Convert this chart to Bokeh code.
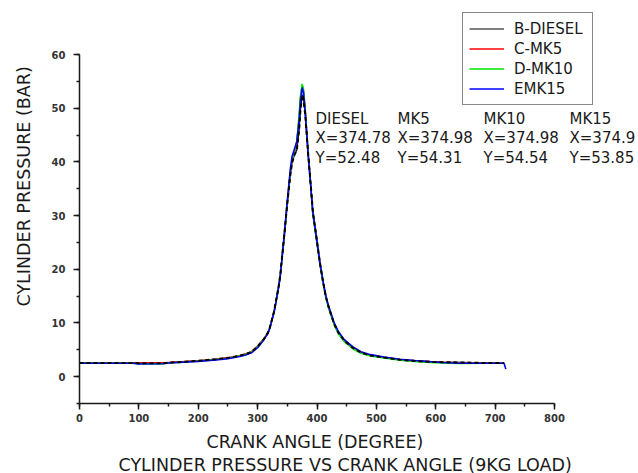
from bokeh.plotting import figure
from bokeh.models import Range1d, SingleIntervalTicker, Legend, LegendItem, Label, Title
from bokeh.embed import file_html
from bokeh.resources import INLINE

# ---- data ----
crank_angle = [0, 50, 90, 100, 140, 150, 200, 230, 250, 270, 280, 290, 300, 310, 317, 320,
               328, 335, 338, 345, 350, 355, 358, 362, 366, 370, 372, 375, 377, 380, 385,
               390, 393, 398, 405, 410, 415, 420, 429, 436, 446, 460, 474, 490, 513, 540,
               565, 590, 610, 640, 680, 715]
diesel = [2.55, 2.55, 2.55, 2.5, 2.5, 2.6, 2.95, 3.25, 3.5, 3.9, 4.2, 4.6, 5.6, 6.9, 8.1, 8.9,
          12.3, 16.6, 18.8, 26.5, 32.3, 37.5, 39.8, 41.3, 42.2, 46.0, 49.5, 52.48, 51.8, 49.0, 41.7,
          35.0, 30.8, 26.9, 21.2, 17.8, 14.9, 12.8, 9.8, 8.2, 6.7, 5.4, 4.5, 3.95, 3.55, 3.15,
          2.9, 2.75, 2.7, 2.65, 2.55, 2.55]
mk5 = [2.6, 2.6, 2.6, 2.6, 2.6, 2.65, 2.95, 3.25, 3.5, 3.95, 4.25, 4.7, 5.7, 7.0, 8.2, 9.0,
       12.3, 16.5, 18.6, 26.3, 32.2, 37.8, 40.2, 41.8, 43.5, 48.5, 51.8, 54.31, 53.6, 50.2, 41.8,
       34.6, 30.3, 26.4, 20.9, 17.6, 14.7, 12.7, 9.7, 8.1, 6.6, 5.3, 4.45, 3.95, 3.55, 3.15,
       2.95, 2.8, 2.7, 2.6, 2.6, 2.6]
mk10 = [2.55, 2.55, 2.5, 2.4, 2.4, 2.55, 2.9, 3.2, 3.45, 3.9, 4.2, 4.6, 5.6, 6.9, 8.1, 8.9,
        12.2, 16.4, 18.5, 26.4, 32.4, 38.0, 40.4, 42.0, 43.9, 49.0, 52.2, 54.54, 53.7, 50.0, 41.6,
        34.5, 30.2, 26.3, 20.8, 17.5, 14.6, 12.6, 9.6, 8.0, 6.5, 5.2, 4.35, 3.85, 3.45, 3.05,
        2.8, 2.65, 2.55, 2.45, 2.5, 2.5]
mk15_angle = [0, 50, 90, 100, 140, 150, 200, 230, 250, 270, 280, 290, 300, 310, 317, 320,
              328, 335, 338, 345, 350, 355, 358, 362, 366, 370, 372, 375, 377, 380, 385,
              390, 393, 398, 405, 410, 415, 420, 429, 436, 446, 460, 474, 490, 513, 540,
              565, 590, 610, 640, 680, 715, 718]
mk15 = [2.5, 2.5, 2.5, 2.35, 2.4, 2.55, 2.85, 3.1, 3.35, 3.75, 4.05, 4.45, 5.4, 6.8, 8.0, 8.8,
        12.1, 16.4, 18.6, 26.6, 32.8, 38.6, 41.0, 42.4, 43.8, 47.8, 51.0, 53.85, 53.0, 49.5, 41.5,
        34.8, 30.6, 26.7, 21.2, 17.9, 15.0, 13.0, 10.0, 8.4, 6.9, 5.6, 4.65, 4.1, 3.65, 3.25,
        3.0, 2.8, 2.65, 2.5, 2.5, 2.5, 1.4]

series_names = ["B-DIESEL", "C-MK5", "D-MK10", "EMK15"]
series_colors = ["#000000", "#ff0000", "#00e600", "#0000ff"]

readout_heads = ["DIESEL", "MK5", "MK10", "MK15"]
readout_x = ["X=374.78", "X=374.98", "X=374.98", "X=374.9"]
readout_y = ["Y=52.48", "Y=54.31", "Y=54.54", "Y=53.85"]
readout_col_deg = [397.5, 535.6, 680.4, 825.3]
readout_row_val = [48.03, 44.41, 40.69]

x_axis_bounds = (0, 800)
y_axis_bounds = (-5, 60)

FONT = "DejaVu Sans"
INK = "#1a1a1a"

# frame: x 79..638 px, y 0..403 px ; 0.59375 px/deg, 5.369 px/bar
p = figure(width=638, height=473, output_backend="svg", toolbar_location=None,
           x_range=Range1d(0, 941.47), y_range=Range1d(-5, 70.06),
           min_border_left=79, min_border_right=0, min_border_top=0, min_border_bottom=70)
p.outline_line_color = None
p.xgrid.visible = False
p.ygrid.visible = False
p.background_fill_color = "white"
p.border_fill_color = "white"

p.xaxis.ticker = SingleIntervalTicker(interval=100, num_minor_ticks=2)
p.yaxis.ticker = SingleIntervalTicker(interval=10, num_minor_ticks=2)
p.xaxis.bounds = x_axis_bounds
p.yaxis.bounds = y_axis_bounds
for ax in (p.xaxis[0], p.yaxis[0]):
    ax.axis_line_color = INK
    ax.axis_line_width = 1.5
    ax.major_tick_line_color = INK
    ax.major_tick_line_width = 1.5
    ax.minor_tick_line_color = INK
    ax.minor_tick_line_width = 1.5
    ax.major_tick_in = 0
    ax.major_tick_out = 6
    ax.minor_tick_in = 0
    ax.minor_tick_out = 3
    ax.major_label_text_font = FONT
    ax.major_label_text_font_size = "10px"
    ax.major_label_text_font_style = "bold"
    ax.major_label_text_color = "#333333"
p.xaxis.major_label_standoff = 4
p.yaxis.major_label_standoff = 8

# axis titles and caption (as layout titles so they can sit off-centre like the reference)
title_kw = dict(text_font=FONT, text_font_size="17.5px", text_font_style="normal",
                text_color=INK)
p.add_layout(Title(text="CYLINDER PRESSURE (BAR)", align="left", offset=97,
                   vertical_align="top", standoff=25, **title_kw), "left")

xlabel_title = Title(text="CRANK ANGLE (DEGREE)", align="left", offset=127,
                     vertical_align="bottom", standoff=3, **title_kw)
caption_title = Title(text="CYLINDER PRESSURE VS CRANK ANGLE (9KG LOAD)", align="left",
                      offset=39, vertical_align="middle", standoff=0, **title_kw)
try:
    caption_title.standoff = -8
    xlabel_title.standoff = 11
except Exception:
    pass
p.add_layout(xlabel_title, "below")
p.add_layout(caption_title, "below")

# curves (solid diesel underneath serves the legend; dashed diesel on top as in the picture)
r_diesel_solid = p.line(crank_angle, diesel, line_color=series_colors[0], line_width=1.2)
r_mk5 = p.line(crank_angle, mk5, line_color=series_colors[1], line_width=1.5)
r_mk10 = p.line(crank_angle, mk10, line_color=series_colors[2], line_width=1.5)
r_mk15 = p.line(mk15_angle, mk15, line_color=series_colors[3], line_width=1.6)
r_diesel = p.line(crank_angle, diesel, line_color=series_colors[0], line_width=2,
                  line_dash="4 3")

legend = Legend(items=[LegendItem(label=n, renderers=[r]) for n, r in
                       zip(series_names, [r_diesel_solid, r_mk5, r_mk10, r_mk15])],
                location=(383, 298), orientation="vertical",
                border_line_color="#111111", border_line_width=1.5,
                background_fill_color="white", background_fill_alpha=1.0,
                label_text_font=FONT, label_text_font_size="15px", label_text_color=INK,
                glyph_width=35, glyph_height=19, label_height=19, label_width=72,
                label_standoff=10, spacing=1, padding=6, margin=0)
p.add_layout(legend)

# peak read-out block
for col, head, xs, ys in zip(readout_col_deg, readout_heads, readout_x, readout_y):
    for row, txt in zip(readout_row_val, (head, xs, ys)):
        p.add_layout(Label(x=col, y=row, text=txt, text_font=FONT, text_font_size="15px",
                           text_color=INK, text_align="left", text_baseline="middle"))

open("out.html", "w").write(file_html(p, INLINE))
